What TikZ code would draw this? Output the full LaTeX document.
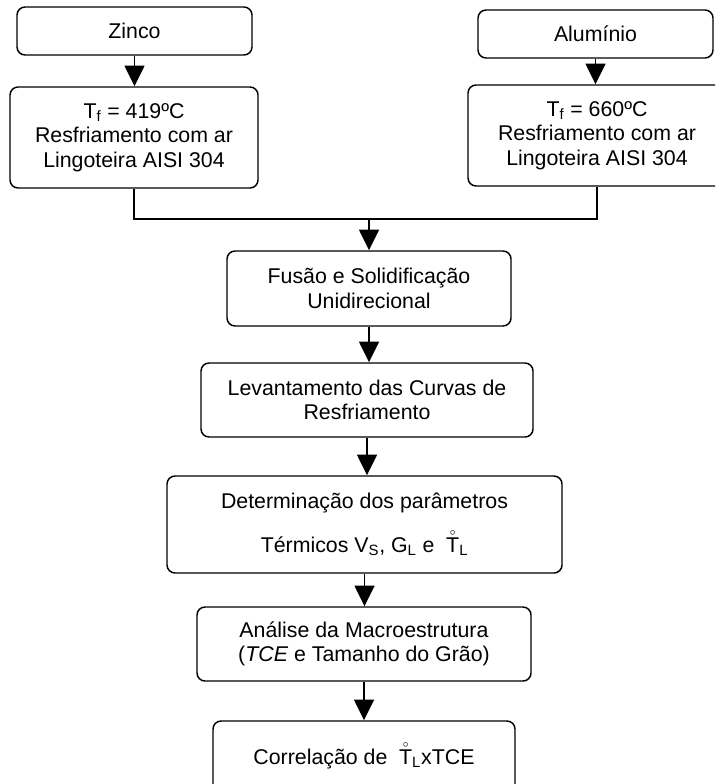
\documentclass[tikz,border=0pt]{standalone}
\usepackage{fontspec}
\setmainfont{Liberation Sans}
\usetikzlibrary{positioning,arrows.meta}
\tikzset{
  box/.style={draw,rounded corners=6pt,line width=1.1pt,align=center,inner sep=0pt,font=\fontsize{16}{18.4}\selectfont},
  lnk/.style={line width=1.1pt},
  arr/.style={-{Triangle[length=15.5pt,width=15pt]},line width=1.1pt},
}
% box from corner (x1,y1) to corner (x2,y2), in pixels of the page
\newcommand{\bx}[6]{%
  \node[box,minimum width={(#4-#2)*0.75pt},minimum height={(#5-#3)*0.75pt}] (#1) at ({(#2+#4)/2},{(#3+#5)/2}) {#6};}
\newcommand{\Tr}{\rlap{\makebox[0.61em]{\smash{\raisebox{13pt}{$\scriptscriptstyle\circ$}}}}T}

\begin{document}
\begin{tikzpicture}[x=0.75pt,y=-0.75pt]
\useasboundingbox (0,0) rectangle (715,784);
\clip (0,0) rectangle (715,784);
\bx{zinco}{17}{7}{252}{55}{Zinco}
\bx{tfzn}{10}{87}{258}{188}{T\textsubscript{f} = 419ºC\\Resfriamento com ar\\Lingoteira AISI 304}
\bx{alum}{478}{10}{713}{58}{Alumínio}
\bx{tfal}{468}{85}{726}{186}{T\textsubscript{f} = 660ºC\\Resfriamento com ar\\Lingoteira AISI 304}
\bx{fusao}{227}{251}{511}{326}{Fusão e Solidificação\\Unidirecional}
\bx{curvas}{201}{363}{533}{437}{Levantamento das Curvas de\\Resfriamento}
\bx{param}{167}{476}{562}{573}{Determinação dos parâmetros\\[14.6pt]Térmicos V\textsubscript{S}, G\textsubscript{L} e\hspace{0.55em}\Tr\textsubscript{L}}
\bx{macro}{197}{607}{531}{681}{Análise da Macroestrutura\\(\textit{TCE} e Tamanho do Grão)}
\bx{corr}{213}{721}{515}{797}{Correlação de\hspace{0.55em}\Tr\textsubscript{L}xTCE}
\coordinate (mj) at (369,219);
% links
\draw[arr] (zinco.south) -- (zinco.south |- tfzn.north);
\draw[arr] (alum.south) -- (alum.south |- tfal.north);
\draw[lnk] (tfzn.south) |- (mj);
\draw[lnk] (tfal.south) |- (mj);
\draw[arr] (mj) -- (mj |- fusao.north);
\draw[arr] (fusao.south) -- (fusao.south |- curvas.north);
\draw[arr] (curvas.south) -- (curvas.south |- param.north);
\draw[arr] (param.south) -- (param.south |- macro.north);
\draw[arr] (macro.south) -- (macro.south |- corr.north);
\end{tikzpicture}
\end{document}
